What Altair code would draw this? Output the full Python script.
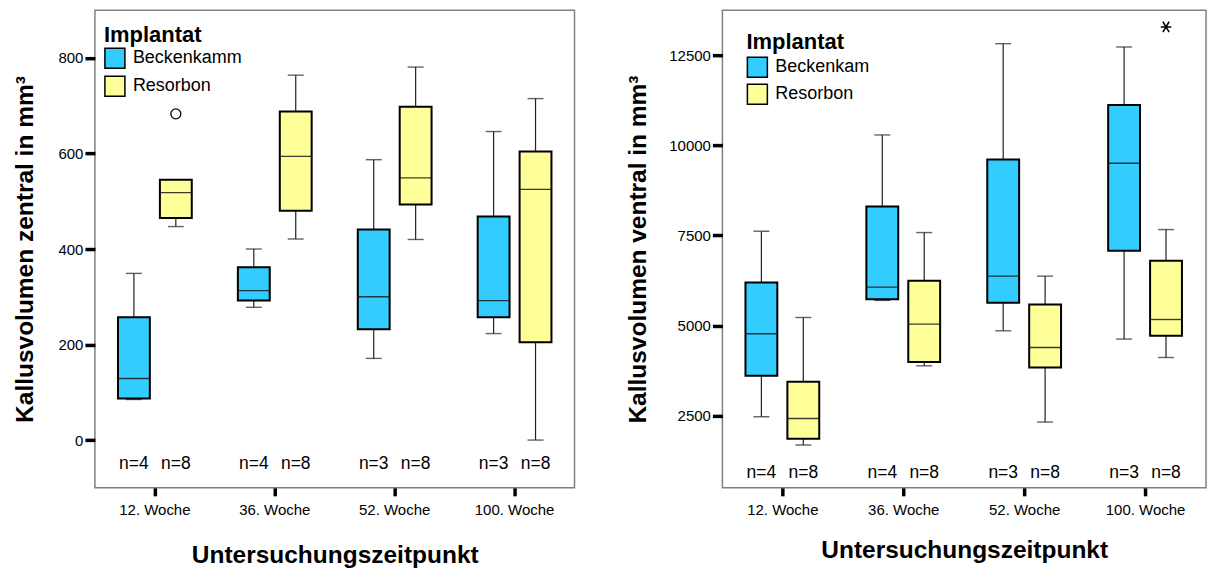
import altair as alt
import pandas as pd

WEEKS = ["12. Woche", "36. Woche", "52. Woche", "100. Woche"]
IMPLANTS = ["Beckenkamm", "Resorbon"]
COLORS = ["#33CCFF", "#FFFF99"]

N_BECKEN = [4, 4, 3, 3]
N_RESORB = [8, 8, 8, 8]

# Kallusvolumen zentral (left panel)
Z_LO_B = [85, 278, 171, 223]
Z_Q1_B = [87, 292, 232, 257]
Z_MED_B = [129, 313, 300, 292]
Z_Q3_B = [257, 362, 441, 468]
Z_HI_B = [349, 400, 587, 646]
Z_LO_R = [447, 421, 420, 0]
Z_Q1_R = [465, 480, 493, 205]
Z_MED_R = [518, 594, 549, 525]
Z_Q3_R = [545, 688, 698, 604]
Z_HI_R = [545, 764, 781, 715]
Z_OUT_WEEK = ["12. Woche"]
Z_OUT_IMPL = ["Resorbon"]
Z_OUT_VAL = [683]

# Kallusvolumen ventral (right panel)
V_LO_B = [2472, 5700, 4857, 4627]
V_Q1_B = [3609, 5735, 5633, 7075]
V_MED_B = [4773, 6068, 6373, 9505]
V_Q3_B = [6196, 8303, 9606, 11122]
V_HI_B = [7620, 10290, 12822, 12730]
V_LO_R = [1688, 3886, 2325, 4116]
V_Q1_R = [1862, 3989, 3839, 4718]
V_MED_R = [2425, 5042, 4393, 5170]
V_Q3_R = [3443, 6243, 5586, 6797]
V_HI_R = [5226, 7582, 6373, 7665]
V_OUT_WEEK = ["100. Woche"]
V_OUT_IMPL = ["Resorbon"]
V_OUT_VAL = [13285]

ASTERISK = "M-1,0L1,0M-0.6,-1L0.6,1M-0.6,1L0.6,-1"


def make_df(lb, q1b, mb, q3b, hb, lr, q1r, mr, q3r, hr, label_y):
    rows = []
    for i, w in enumerate(WEEKS):
        rows.append(dict(week=w, implant=IMPLANTS[0], lo=lb[i], q1=q1b[i], med=mb[i],
                         q3=q3b[i], hi=hb[i], n=f"n={N_BECKEN[i]}", ny=label_y))
        rows.append(dict(week=w, implant=IMPLANTS[1], lo=lr[i], q1=q1r[i], med=mr[i],
                         q3=q3r[i], hi=hr[i], n=f"n={N_RESORB[i]}", ny=label_y))
    return pd.DataFrame(rows)


def panel(df, out_df, out_kind, domain, ticks, ytitle, width, legend_x, legend_y,
          title_pad, row_pad, label_expr, ytitle_x, xtitle_y):
    xs = alt.X("week:N", sort=WEEKS, scale=alt.Scale(paddingInner=0, paddingOuter=0),
               axis=alt.Axis(title="Untersuchungszeitpunkt", labelAngle=0,
                             titleY=xtitle_y, titleBaseline="alphabetic"))
    xo = alt.XOffset("implant:N", sort=IMPLANTS,
                     scale=alt.Scale(paddingInner=0.24, paddingOuter=0.55))

    def ys(field):
        return alt.Y(field, type="quantitative",
                     scale=alt.Scale(domain=domain, nice=False, zero=False),
                     axis=alt.Axis(title=ytitle, values=ticks, format="d",
                                   titleX=ytitle_x, titleBaseline="alphabetic"))

    base = alt.Chart(df)
    whisk = base.mark_rule(color="#222", strokeWidth=1.2).encode(
        x=xs, xOffset=xo, y=ys("lo"), y2="hi")
    cap_lo = base.mark_tick(color="#222", size=16, thickness=1.4).encode(
        x=xs, xOffset=xo, y=ys("lo"))
    cap_hi = base.mark_tick(color="#222", size=16, thickness=1.4).encode(
        x=xs, xOffset=xo, y=ys("hi"))
    legend = alt.Legend(orient="none", legendX=legend_x, legendY=legend_y,
                        title="Implantat", titleFontSize=22, titleFontWeight="bold",
                        titleColor="black", titlePadding=title_pad, labelFontSize=18,
                        labelColor="black", symbolType="square", symbolSize=400,
                        symbolStrokeColor="black", symbolStrokeWidth=1.5,
                        rowPadding=row_pad, labelOffset=7, padding=0,
                        labelExpr=label_expr)
    boxes = base.mark_bar(stroke="black", strokeWidth=2).encode(
        x=xs, xOffset=xo, y=ys("q1"), y2="q3",
        color=alt.Color("implant:N", sort=IMPLANTS,
                        scale=alt.Scale(domain=IMPLANTS, range=COLORS), legend=legend))
    meds = base.mark_tick(color="#1a1a1a", size=32, thickness=1.4, opacity=0.85).encode(
        x=xs, xOffset=xo, y=ys("med"))
    nlab = base.mark_text(fontSize=17.5, color="black", baseline="alphabetic").encode(
        x=xs, xOffset=xo, y=ys("ny"), text="n:N")
    if out_kind == "circle":
        outl = alt.Chart(out_df).mark_point(shape="circle", size=100, filled=False,
                                            color="black", strokeWidth=1.3, opacity=1).encode(
            x=xs, xOffset=xo, y=ys("val"))
    else:
        outl = alt.Chart(out_df).mark_point(shape=ASTERISK, size=110, filled=False,
                                            color="black", strokeWidth=1.5, opacity=1).encode(
            x=xs, xOffset=xo, y=ys("val"))
    return alt.layer(whisk, cap_lo, cap_hi, boxes, meds, outl, nlab).properties(
        width=width, height=478)


dz = make_df(Z_LO_B, Z_Q1_B, Z_MED_B, Z_Q3_B, Z_HI_B,
             Z_LO_R, Z_Q1_R, Z_MED_R, Z_Q3_R, Z_HI_R, -61)
dv = make_df(V_LO_B, V_Q1_B, V_MED_B, V_Q3_B, V_HI_B,
             V_LO_R, V_Q1_R, V_MED_R, V_Q3_R, V_HI_R, 785)
oz = pd.DataFrame(dict(week=Z_OUT_WEEK, implant=Z_OUT_IMPL, val=Z_OUT_VAL))
ov = pd.DataFrame(dict(week=V_OUT_WEEK, implant=V_OUT_IMPL, val=V_OUT_VAL))

left = panel(dz, oz, "circle", [-100, 900], [0, 200, 400, 600, 800],
             "Kallusvolumen zentral in mm³", 480, 9, 15, 0, 2,
             "datum.label", -62, 75)
right = panel(dv, ov, "asterisk", [500, 13750], [2500, 5000, 7500, 10000, 12500],
              "Kallusvolumen ventral in mm³", 484, 24, 22, 2, 1,
              "datum.label == 'Beckenkamm' ? 'Beckenkam' : datum.label", -77, 70)

chart = alt.hconcat(left, right, spacing=148, bounds="flush").resolve_scale(
    color="independent", y="independent").resolve_legend(color="independent").properties(
    padding={"left": 12, "top": 9, "right": 0, "bottom": 0}
).configure(font="Liberation Sans").configure_view(
    stroke="#808080", strokeWidth=1.5
).configure_axis(
    domain=False, grid=False, tickColor="black", tickWidth=3.5, labelColor="black",
    labelFontSize=15, titleFontSize=24.5, titleFontWeight="bold", titleColor="black",
    labelFont="Liberation Sans", titleFont="Liberation Sans"
).configure_axisX(tickSize=8, labelPadding=7).configure_axisY(tickSize=10, labelPadding=2)

chart.save("out.html", embed_options={"renderer": "svg", "actions": False})
